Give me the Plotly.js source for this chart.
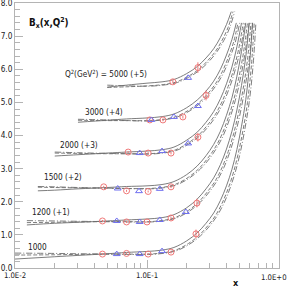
<!DOCTYPE html>
<html><head><meta charset="utf-8">
<script src="https://cdn.plot.ly/plotly-3.0.1.min.js"></script>
<style>html,body{margin:0;padding:0;background:#fff;}#chart{width:290px;height:287px;}</style>
</head><body><div id="chart"></div>
<script>
// ---- chart values ----
const familyLabels = ['1000', '1200 (+1)', '1500 (+2)', '2000 (+3)', '3000 (+4)', 'Q<sup>2</sup>(GeV<sup>2</sup>) = 5000 (+5)'];
const offsets = [0, 1, 2, 3, 4, 5];

const solidX = [
  [0.01,0.02,0.03,0.05,0.07,0.1,0.13,0.16,0.2,0.24,0.28,0.32,0.36,0.4,0.44,0.48,0.52,0.56,0.6,0.63],
  [0.0123,0.02,0.03,0.05,0.07,0.1,0.13,0.16,0.2,0.24,0.28,0.32,0.36,0.4,0.44,0.48,0.52,0.56,0.595],
  [0.0149,0.02,0.03,0.05,0.07,0.1,0.13,0.16,0.2,0.24,0.28,0.32,0.36,0.4,0.44,0.48,0.52,0.56],
  [0.02,0.03,0.05,0.07,0.1,0.13,0.16,0.2,0.24,0.28,0.32,0.36,0.4,0.44,0.48,0.52],
  [0.03,0.05,0.07,0.1,0.13,0.16,0.2,0.24,0.28,0.32,0.36,0.4,0.44,0.475],
  [0.05,0.07,0.1,0.13,0.16,0.2,0.24,0.28,0.32,0.36,0.4,0.435]
];
const solidB = [
  [0.27,0.34,0.38,0.43,0.47,0.50,0.54,0.62,0.82,1.06,1.35,1.66,2.04,2.48,2.98,3.58,4.28,5.08,6.20,7.40],
  [0.30,0.35,0.38,0.42,0.45,0.48,0.52,0.61,0.82,1.08,1.39,1.72,2.12,2.59,3.13,3.77,4.51,5.37,6.40],
  [0.33,0.35,0.39,0.43,0.46,0.48,0.52,0.61,0.82,1.08,1.39,1.73,2.13,2.61,3.14,3.79,4.54,5.40],
  [0.38,0.42,0.47,0.50,0.53,0.57,0.65,0.86,1.10,1.40,1.72,2.11,2.56,3.07,3.68,4.40],
  [0.40,0.46,0.50,0.53,0.57,0.65,0.84,1.07,1.34,1.64,2.00,2.43,2.90,3.40],
  [0.46,0.52,0.58,0.62,0.69,0.87,1.08,1.34,1.62,1.96,2.35,2.74]
];

const dashedX = [
  [0.01,0.02,0.03,0.05,0.07,0.103,0.134,0.165,0.206,0.247,0.288,0.33,0.371,0.412,0.453,0.494,0.536,0.577,0.618,0.649],
  [0.0123,0.02,0.03,0.05,0.07,0.103,0.134,0.165,0.206,0.247,0.288,0.33,0.371,0.412,0.453,0.494,0.536,0.577,0.613],
  [0.0149,0.02,0.03,0.05,0.07,0.103,0.134,0.165,0.206,0.247,0.288,0.33,0.371,0.412,0.453,0.494,0.536,0.577],
  [0.02,0.03,0.05,0.07,0.103,0.134,0.165,0.206,0.247,0.288,0.33,0.371,0.412,0.453,0.494,0.536],
  [0.03,0.05,0.07,0.103,0.134,0.165,0.206,0.247,0.288,0.33,0.371,0.412,0.453,0.489],
  [0.05,0.07,0.103,0.134,0.165,0.206,0.247,0.288,0.33,0.371,0.412,0.448]
];
const dashedB = [
  [0.39,0.40,0.41,0.42,0.42,0.42,0.46,0.54,0.74,0.98,1.27,1.58,1.96,2.40,2.90,3.50,4.20,5.00,6.12,7.40],
  [0.37,0.38,0.39,0.40,0.40,0.40,0.44,0.53,0.74,1.00,1.31,1.64,2.04,2.51,3.05,3.69,4.43,5.29,6.40],
  [0.44,0.43,0.42,0.41,0.40,0.40,0.44,0.53,0.74,1.00,1.31,1.65,2.05,2.53,3.06,3.71,4.46,5.40],
  [0.47,0.46,0.45,0.45,0.45,0.49,0.57,0.78,1.02,1.32,1.64,2.03,2.48,2.99,3.60,4.40],
  [0.46,0.45,0.45,0.45,0.49,0.57,0.76,0.99,1.26,1.56,1.92,2.35,2.82,3.40],
  [0.45,0.47,0.50,0.54,0.61,0.79,1.00,1.26,1.54,1.88,2.27,2.74]
];

const dashdotX = [
  [0.01,0.02,0.03,0.05,0.07,0.106,0.138,0.17,0.212,0.254,0.297,0.339,0.382,0.424,0.466,0.509,0.551,0.594,0.636,0.668],
  [0.0123,0.02,0.03,0.05,0.07,0.106,0.138,0.17,0.212,0.254,0.297,0.339,0.382,0.424,0.466,0.509,0.551,0.594,0.631],
  [0.0149,0.02,0.03,0.05,0.07,0.106,0.138,0.17,0.212,0.254,0.297,0.339,0.382,0.424,0.466,0.509,0.551,0.594],
  [0.02,0.03,0.05,0.07,0.106,0.138,0.17,0.212,0.254,0.297,0.339,0.382,0.424,0.466,0.509,0.551],
  [0.03,0.05,0.07,0.106,0.138,0.17,0.212,0.254,0.297,0.339,0.382,0.424,0.466,0.504],
  [0.05,0.07,0.106,0.138,0.17,0.212,0.254,0.297,0.339,0.382,0.424,0.461]
];
const dashdotB = [
  [0.45,0.44,0.43,0.42,0.41,0.41,0.45,0.53,0.73,0.97,1.26,1.57,1.95,2.39,2.89,3.49,4.19,4.99,6.11,7.40],
  [0.43,0.42,0.41,0.40,0.39,0.39,0.43,0.52,0.73,0.99,1.30,1.63,2.03,2.50,3.04,3.68,4.42,5.28,6.40],
  [0.46,0.45,0.43,0.41,0.40,0.39,0.43,0.52,0.73,0.99,1.30,1.64,2.04,2.52,3.05,3.70,4.45,5.40],
  [0.50,0.48,0.46,0.45,0.44,0.48,0.56,0.77,1.01,1.31,1.63,2.02,2.47,2.98,3.59,4.40],
  [0.49,0.47,0.45,0.44,0.48,0.56,0.75,0.98,1.25,1.55,1.91,2.34,2.81,3.40],
  [0.52,0.50,0.49,0.53,0.60,0.78,0.99,1.25,1.53,1.87,2.26,2.74]
];

const circleX = [[0.046,0.07,0.102,0.152,0.235],[0.046,0.07,0.10,0.152,0.239],[0.047,0.07,0.102,0.152],[0.072,0.102,0.152,0.243],[0.105,0.132,0.187,0.28],[0.157,0.243]];
const circleB = [[0.42,0.44,0.42,0.48,1.03],[0.42,0.39,0.39,0.51,0.96],[0.45,0.33,0.31,0.45],[0.50,0.47,0.47,0.95],[0.47,0.47,0.56,1.21],[0.62,1.05]];
const circleErr = [[0.03,0.03,0.03,0.04,0.13],[0.03,0.03,0.03,0.04,0.13],[0.03,0.03,0.03,0.04],[0.03,0.03,0.04,0.13],[0.03,0.04,0.05,0.15],[0.05,0.16]];
const triX = [[0.059,0.088,0.13],[0.059,0.088,0.125,0.197],[0.06,0.087,0.125],[0.088,0.13,0.205],[0.108,0.16,0.243],[0.205]];
const triB = [[0.42,0.42,0.51],[0.42,0.39,0.45,0.69],[0.40,0.32,0.39],[0.47,0.53,0.76],[0.47,0.56,0.89],[0.74]];

const xTickVals = [0.01, 0.1, 1];
const xTickText = ['1.0E-2', '1.0E-1', ''];
const xLastTickText = '1.0E+0';
const xMinorVals = [0.02,0.03,0.04,0.05,0.06,0.07,0.08,0.09,0.2,0.3,0.4,0.5,0.6,0.7,0.8,0.9];
const yTickVals = [0,1,2,3,4,5,6,7,8];
const yTickText = ['0.0','1.0','2.0','3.0','4.0','5.0','6.0','7.0','8.0'];
// label anchors (paper coords)
const labelPos = [[0.042,0.079],[0.057,0.211],[0.102,0.343],[0.163,0.464],[0.258,0.589],[0.182,0.732]];

// ---- font choice ----
function pickFont(){
  const c = document.createElement('canvas').getContext('2d');
  const t = '3000 (+4) 1.0E-2 GeV';
  c.font = '20px monospace'; const w0 = c.measureText(t).width;
  const cands = ['Liberation Sans Narrow','Arial Narrow','DejaVu Sans Condensed'];
  for (const f of cands){ c.font = '20px "'+f+'", monospace'; if (Math.abs(c.measureText(t).width - w0) > 0.5) return {fam:'"'+f+'"', k: f.startsWith('DejaVu') ? 0.82 : 1}; }
  return {fam:'"Liberation Sans", Arial, sans-serif', k:0.82};
}
const F = pickFont();
const fam = F.fam;
const fs = s => Math.round(s*F.k*10)/10;

const LC = '#6e6e6e';
const RC = 'rgb(240,120,120)';
const BC = 'rgb(110,110,240)';
const traces = [];
for (let i=0;i<6;i++){
  const o = offsets[i];
  traces.push({x: solidX[i], y: solidB[i].map(v=>v+o), mode:'lines', line:{color:LC,width:0.9,shape:'spline'}});
  traces.push({x: dashedX[i], y: dashedB[i].map(v=>v+o), mode:'lines', line:{color:LC,width:0.9,dash:'4px,2px',shape:'spline'}});
  traces.push({x: dashdotX[i], y: dashdotB[i].map(v=>v+o), mode:'lines', line:{color:LC,width:0.9,dash:'6px,2px,1px,2px',shape:'spline'}});
  traces.push({x: circleX[i], y: circleB[i].map(v=>v+o), mode:'markers',
    marker:{symbol:'circle-open', size:6, color:RC, line:{width:1}},
    error_y:{type:'data', array: circleErr[i], color:RC, thickness:1, width:0}});
  traces.push({x: triX[i], y: triB[i].map(v=>v+o), mode:'markers',
    marker:{symbol:'triangle-up-open', size:6, color:BC, line:{width:1}}});
}

const axC = '#b4b4b4';
const annotations = familyLabels.map((t,i)=>({text:t, xref:'paper', yref:'paper', x:labelPos[i][0], y:labelPos[i][1],
  xanchor:'left', yanchor:'middle', showarrow:false, font:{family:fam, size:fs(10), color:'#222'}}));
annotations.push({text:'B<sub>x</sub>(x,Q<sup>2</sup>)', xref:'paper', yref:'paper', x:0.045, y:0.925, xanchor:'left', yanchor:'middle',
  showarrow:false, font:{family:fam, size:fs(12), color:'#111', weight:'bold'}});
annotations.push({text:'x', xref:'paper', yref:'paper', x:0.837, y:-0.057, xanchor:'center', yanchor:'middle',
  showarrow:false, font:{family:fam, size:fs(11), color:'#111', weight:'bold'}});
annotations.push({text:xLastTickText, xref:'paper', yref:'paper', x:1.0375, y:-0.034, xanchor:'right', yanchor:'middle',
  showarrow:false, font:{family:fam, size:fs(9.4), color:'#222'}});

const layout = {
  width:290, height:287, margin:{l:15, r:11, t:3, b:19, pad:0},
  paper_bgcolor:'#fff', plot_bgcolor:'#fff', showlegend:false, hovermode:false,
  xaxis:{type:'log', range:[-2,0], tickmode:'array', tickvals:xTickVals, ticktext:xTickText,
    ticks:'inside', ticklen:8, tickcolor:axC, tickwidth:1, showline:true, linecolor:axC, linewidth:1, mirror:true,
    showgrid:false, zeroline:false, ticklabeloverflow:'allow', tickfont:{family:fam, size:fs(9.4), color:'#222'},
    minor:{tickmode:'array', tickvals:xMinorVals, ticks:'inside', ticklen:5, tickcolor:axC, showgrid:false}},
  yaxis:{range:[0,8], tickmode:'array', tickvals:yTickVals, ticktext:yTickText,
    ticks:'inside', ticklen:8, tickcolor:axC, tickwidth:1, showline:true, linecolor:axC, linewidth:1, mirror:true,
    showgrid:false, zeroline:false, ticklabeloverflow:'allow', tickfont:{family:fam, size:fs(10), color:'#222'},
    minor:{dtick:0.2, ticks:'inside', ticklen:5, tickcolor:axC, showgrid:false}},
  annotations: annotations
};
Plotly.newPlot('chart', traces, layout, {staticPlot:true, displayModeBar:false});
</script></body></html>
